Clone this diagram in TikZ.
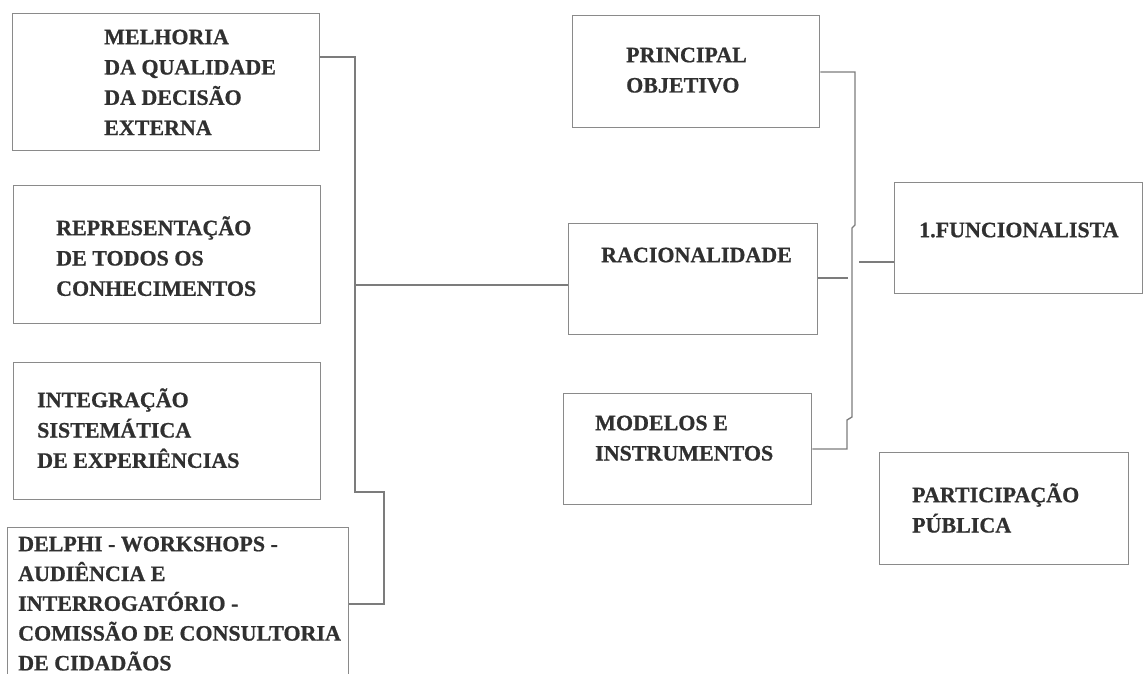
\documentclass[tikz,border=0pt]{standalone}
\usepackage{fontspec}
\setmainfont{Liberation Serif}[BoldFeatures={FakeBold=0.8}]
\definecolor{boxline}{HTML}{8A8A8A}
\definecolor{wire}{HTML}{7C7C7C}
\definecolor{ink}{HTML}{303030}
\begin{document}
\begin{tikzpicture}[x=1pt,y=-1pt,
  card/.style={draw=boxline,line width=1.4pt,rectangle,inner sep=0pt,anchor=north west},
  label/.style={anchor=north west,inner sep=0pt,align=left,text=ink,
    font=\fontsize{22}{30.3}\selectfont\bfseries},
  conn/.style={draw=wire,line width=1.3pt}]
\useasboundingbox (0,0) rectangle (1144,674);
% boxes
\node[card,minimum width=307pt,minimum height=137pt] (b1) at (12,13) {};
\node[card,minimum width=307pt,minimum height=138pt] (b2) at (13,185) {};
\node[card,minimum width=307pt,minimum height=137pt] (b3) at (13,362) {};
\node[card,minimum width=341pt,minimum height=180pt] (b4) at (7,527) {};
\node[card,minimum width=247pt,minimum height=112pt] (b5) at (572,15) {};
\node[card,minimum width=249pt,minimum height=111pt] (b6) at (568,223) {};
\node[card,minimum width=248pt,minimum height=111pt] (b7) at (563,393) {};
\node[card,minimum width=248pt,minimum height=111pt] (b8) at (894,182) {};
\node[card,minimum width=249pt,minimum height=112pt] (b9) at (879,452) {};
% texts (first baseline minus 24pt strut)
\newcommand{\st}{\rule{0pt}{24pt}}
\node[label] (t1) at (104,20) {\st MELHORIA\\DA QUALIDADE\\DA DECISÃO\\EXTERNA};
\node[label] (t2) at (56,211) {\st REPRESENTAÇÃO\\DE TODOS OS\\CONHECIMENTOS};
\node[label] (t3) at (37,383) {\st INTEGRAÇÃO\\SISTEMÁTICA\\DE EXPERIÊNCIAS};
\node[label,font=\fontsize{22}{29.8}\selectfont\bfseries] (t4) at (18,527)
  {\st DELPHI - WORKSHOPS -\\AUDIÊNCIA E\\INTERROGATÓRIO -\\COMISSÃO DE CONSULTORIA\\DE CIDADÃOS};
\node[label] (t5) at (626,38) {\st PRINCIPAL\\OBJETIVO};
\node[label] (t6) at (601,238) {\st RACIONALIDADE};
\node[label] (t7) at (595,406) {\st MODELOS E\\INSTRUMENTOS};
\node[label] (t8) at (919,213) {\st 1.FUNCIONALISTA};
\node[label] (t9) at (912,478) {\st PARTICIPAÇÃO\\PÚBLICA};
% left bracket
\coordinate (j1) at (355,285);
\draw[conn] (b1.east|-0,57) -- (355,57) -- (355,492) -- (384,492) -- (384,604) -- (b4.east|-0,604);
\draw[conn] (j1) -- (b6.west|-j1);
% right bracket
\draw[conn] (b5.east|-0,72) -- (855,72) -- (855,225) -- (852,228) -- (852,417)
  -- (847,420) -- (847,449) -- (b7.east|-0,449);
\coordinate (r1) at (848,278);
\draw[conn] (b6.east|-r1) -- (r1);
\coordinate (r2) at (859,262);
\draw[conn] (r2) -- (b8.west|-r2);
\end{tikzpicture}
\end{document}
